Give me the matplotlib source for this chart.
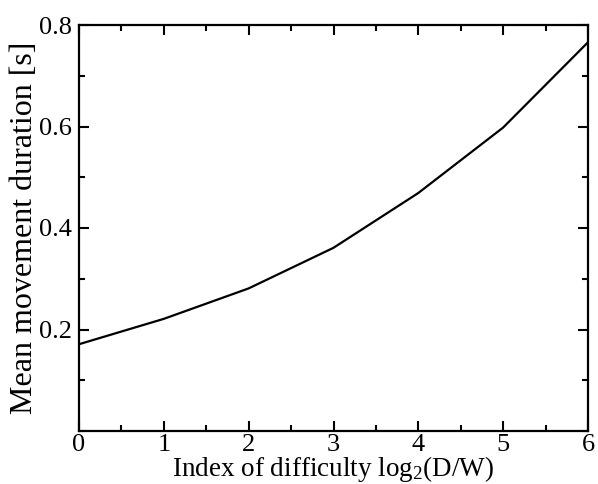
import matplotlib
matplotlib.use("Agg")
import matplotlib.pyplot as plt
from matplotlib.ticker import MultipleLocator

difficulty = [0, 1, 2, 3, 4, 5, 6]
duration = [0.171, 0.221, 0.281, 0.361, 0.469, 0.598, 0.766]

x_ticks = [0, 1, 2, 3, 4, 5, 6]
y_ticks = [0.2, 0.4, 0.6, 0.8]
y_tick_labels = ["0.2", "0.4", "0.6", "0.8"]

plt.rcParams['font.family'] = ['Liberation Serif', 'DejaVu Serif']
plt.rcParams['mathtext.fontset'] = 'custom'
plt.rcParams['mathtext.rm'] = 'Liberation Serif'
plt.rcParams['mathtext.default'] = 'regular'

fig = plt.figure(figsize=(5.98, 4.84), dpi=100)
ax = fig.add_axes([79/598, 53/484, (588-79)/598, (431-25)/484])

ax.plot(difficulty, duration, color='black', lw=1.6)

ax.set_xlim(0, 6)
ax.set_ylim(0, 0.8)
ax.set_xticks(x_ticks)
ax.set_yticks(y_ticks)
ax.set_yticklabels(y_tick_labels)
ax.xaxis.set_minor_locator(MultipleLocator(0.5))
ax.yaxis.set_minor_locator(MultipleLocator(0.1))

ax.tick_params(which='both', direction='in', top=True, right=True, width=1.5, labelsize=19)
ax.tick_params(which='major', length=7)
ax.tick_params(axis='x', which='major', pad=2)
ax.tick_params(axis='y', which='major', pad=5)
ax.tick_params(which='minor', length=4)
for s in ax.spines.values():
    s.set_linewidth(1.6)

ax.set_xlabel("Index of difficulty log$_2$(D/W)", fontsize=19.5, labelpad=-1)
ax.set_ylabel("Mean movement duration [s]", fontsize=23, labelpad=0)

fig.savefig("out.png", dpi=100)
